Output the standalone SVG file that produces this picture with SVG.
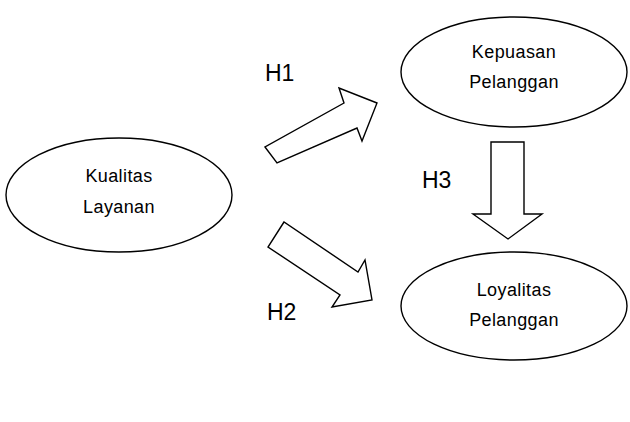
<svg xmlns="http://www.w3.org/2000/svg" width="630" height="422" viewBox="0 0 630 422">
<style>
.n{fill:#fff;stroke:#000;stroke-width:1.4}
.t{font-family:"Liberation Sans",Arial,sans-serif;font-size:18px;fill:#000;text-anchor:middle;letter-spacing:0.4px}
.h{font-family:"Liberation Sans",Arial,sans-serif;font-size:23px;fill:#000}
.a{fill:#fff;stroke:#000;stroke-width:1.4;stroke-linejoin:miter}
</style>
<rect width="630" height="422" fill="#fff"/>
<g id="connectors">
<polygon class="a" points="265,147 277,163 357,128 362,141 377,103 339,88 344,103"/>
<polygon class="a" points="284,222 268,247 340,295 332,307 372,300 365,260 358,272"/>
<polygon class="a" points="491,142 524,142 524,214 542,214 508,239 473,214 491,214"/>
<text class="h" x="265" y="81">H1</text>
<text class="h" x="267" y="320">H2</text>
<text class="h" x="422" y="188">H3</text>
</g>
<g id="kualitas">
<ellipse class="n" cx="119" cy="195" rx="113" ry="57"/>
<text class="t" x="119" y="182">Kualitas</text>
<text class="t" x="119" y="213">Layanan</text>
</g>
<g id="kepuasan">
<ellipse class="n" cx="514" cy="72" rx="113" ry="55"/>
<text class="t" x="514" y="58">Kepuasan</text>
<text class="t" x="514" y="88">Pelanggan</text>
</g>
<g id="loyalitas">
<ellipse class="n" cx="514" cy="306" rx="113" ry="54"/>
<text class="t" x="514" y="296">Loyalitas</text>
<text class="t" x="514" y="326">Pelanggan</text>
</g>
</svg>
